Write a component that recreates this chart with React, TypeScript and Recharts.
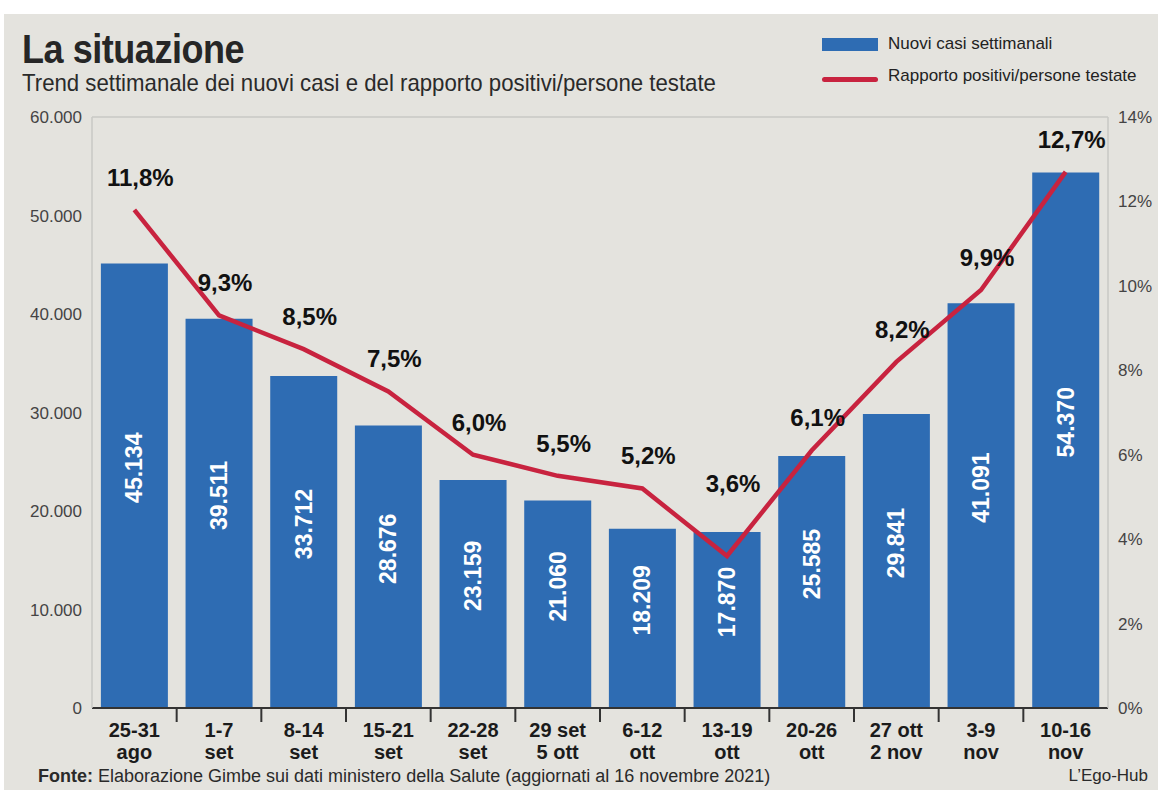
import React from 'react';
import {
  ComposedChart,
  Bar,
  Line,
  XAxis,
  YAxis,
  CartesianGrid,
  LabelList,
} from 'recharts';

const weeks = [
  ['25-31', 'ago'],
  ['1-7', 'set'],
  ['8-14', 'set'],
  ['15-21', 'set'],
  ['22-28', 'set'],
  ['29 set', '5 ott'],
  ['6-12', 'ott'],
  ['13-19', 'ott'],
  ['20-26', 'ott'],
  ['27 ott', '2 nov'],
  ['3-9', 'nov'],
  ['10-16', 'nov'],
];
const newCases = [45134, 39511, 33712, 28676, 23159, 21060, 18209, 17870, 25585, 29841, 41091, 54370];
const positivity = [11.8, 9.3, 8.5, 7.5, 6.0, 5.5, 5.2, 3.6, 6.1, 8.2, 9.9, 12.7];
const casesTicks = [0, 10000, 20000, 30000, 40000, 50000, 60000];
const rateTicks = [0, 2, 4, 6, 8, 10, 12, 14];

const BLUE = '#2e6cb3';
const RED = '#c8233f';
const GRID = '#c8c8c4';
const BG = '#e4e3de';
const SANS = "'Liberation Sans', Arial, sans-serif";

const CHART_W = 1154;
const CHART_H = 780;
const LEFT_W = 88;
const RIGHT_W = 50;
const BAND = (CHART_W - LEFT_W - RIGHT_W) / weeks.length;

const data = weeks.map((w, i) => ({
  key: w.join(' '),
  top: w[0],
  bottom: w[1],
  cases: newCases[i],
  rate: positivity[i],
}));

const fmtThousands = (v: number) => String(v).replace(/\B(?=(\d{3})+(?!\d))/g, '.');
const fmtPct = (v: number) => v.toFixed(1).replace('.', ',') + '%';

const WeekTick = (props: any) => {
  const { x, y, index } = props;
  const d = data[index];
  return (
    <g>
      {index < data.length - 1 && (
        <line x1={x + BAND / 2} x2={x + BAND / 2} y1={y - 8} y2={y + 6} stroke="#333" strokeWidth={2} />
      )}
      <text x={x} y={y + 7} textAnchor="middle" fontFamily={SANS} fontWeight="bold" fontSize={20} fill="#1b1b1b">
        <tspan x={x} dy="0.71em">{d.top}</tspan>
        <tspan x={x} dy={22}>{d.bottom}</tspan>
      </text>
    </g>
  );
};

const BarValue = (props: any) => {
  const { x, y, width, height, value } = props;
  const cx = x + width / 2;
  const cy = y + height / 2 - 18;
  return (
    <text
      x={cx}
      y={cy}
      transform={`rotate(-90 ${cx} ${cy})`}
      textAnchor="middle"
      dominantBaseline="central"
      fill="#ffffff"
      fontFamily={SANS}
      fontWeight="bold"
      fontSize={23}
    >
      {fmtThousands(value)}
    </text>
  );
};

// lift the label a bit more where the line dips, so it stays clear of both segments
const RateValue = (props: any) => {
  const { x, y, value, index } = props;
  const prev = positivity[index - 1];
  const next = positivity[index + 1];
  const dip = prev !== undefined && next !== undefined && value < prev && value < next;
  return (
    <text
      x={x + 6}
      y={y - (dip ? 64 : 24)}
      textAnchor="middle"
      fill="#111"
      fontFamily={SANS}
      fontWeight="bold"
      fontSize={24}
    >
      {fmtPct(value)}
    </text>
  );
};

export default function App() {
  return (
    <div style={{ position: 'absolute', left: 0, top: 0, width: 1161, height: 797, background: '#fff' }}>
      <div
        style={{
          position: 'absolute',
          left: 4,
          top: 14,
          width: CHART_W,
          height: 776,
          background: BG,
          fontFamily: SANS,
          color: '#222',
          overflow: 'hidden',
        }}
      >
        <div
          style={{
            position: 'absolute',
            left: 18,
            top: 12,
            fontSize: 40,
            fontWeight: 'bold',
            lineHeight: '46px',
            color: '#262626',
            whiteSpace: 'nowrap',
            transform: 'scaleX(0.9)',
            transformOrigin: 'left top',
            letterSpacing: -0.5,
          }}
        >
          La situazione
        </div>
        <div
          style={{
            position: 'absolute',
            left: 18,
            top: 55,
            fontSize: 24,
            lineHeight: '28px',
            color: '#2a2a2a',
            whiteSpace: 'nowrap',
            transform: 'scaleX(0.925)',
            transformOrigin: 'left top',
          }}
        >
          Trend settimanale dei nuovi casi e del rapporto positivi/persone testate
        </div>

        <div style={{ position: 'absolute', left: 818, top: 24, width: 56, height: 13, background: BLUE }} />
        <div style={{ position: 'absolute', left: 884, top: 20, fontSize: 17, lineHeight: '20px', whiteSpace: 'nowrap' }}>
          Nuovi casi settimanali
        </div>
        <div style={{ position: 'absolute', left: 818, top: 63, width: 56, height: 5, background: RED, borderRadius: 3 }} />
        <div style={{ position: 'absolute', left: 884, top: 52, fontSize: 17, lineHeight: '20px', whiteSpace: 'nowrap' }}>
          Rapporto positivi/persone testate
        </div>

        <div style={{ position: 'absolute', left: 0, top: 0 }}>
          <ComposedChart
            width={CHART_W}
            height={CHART_H}
            data={data}
            margin={{ top: 103, right: 0, bottom: 0, left: 0 }}
            barCategoryGap="10.5%"
          >
            <CartesianGrid horizontal vertical={false} stroke={GRID} strokeWidth={1.5} />
            <XAxis
              dataKey="key"
              height={CHART_H - 694}
              interval={0}
              tickLine={false}
              axisLine={{ stroke: '#333', strokeWidth: 2 }}
              tick={<WeekTick />}
            />
            <YAxis
              yAxisId="cases"
              width={LEFT_W}
              domain={[0, 60000]}
              ticks={casesTicks}
              tickLine={false}
              axisLine={{ stroke: GRID, strokeWidth: 1.5 }}
              tickMargin={4}
              tickFormatter={fmtThousands}
              tick={{ fontSize: 17, fill: '#444', fontFamily: SANS }}
            />
            <YAxis
              yAxisId="rate"
              orientation="right"
              width={RIGHT_W}
              domain={[0, 14]}
              ticks={rateTicks}
              tickLine={false}
              axisLine={{ stroke: GRID, strokeWidth: 1.5 }}
              tickMargin={4}
              tickFormatter={(v: number) => `${v}%`}
              tick={{ fontSize: 17, fill: '#444', fontFamily: SANS }}
            />
            <Bar yAxisId="cases" dataKey="cases" fill={BLUE} isAnimationActive={false}>
              <LabelList dataKey="cases" content={<BarValue />} />
            </Bar>
            <Line
              yAxisId="rate"
              dataKey="rate"
              stroke={RED}
              strokeWidth={4.5}
              dot={false}
              activeDot={false}
              type="linear"
              isAnimationActive={false}
            >
              <LabelList dataKey="rate" content={<RateValue />} />
            </Line>
          </ComposedChart>
        </div>

        <div style={{ position: 'absolute', left: 34, top: 752, fontSize: 18, lineHeight: '20px', color: '#2a2a2a', whiteSpace: 'nowrap' }}>
          <b>Fonte:</b> Elaborazione Gimbe sui dati ministero della Salute (aggiornati al 16 novembre 2021)
        </div>
        <div style={{ position: 'absolute', right: 10, top: 752, fontSize: 17, lineHeight: '20px', color: '#2a2a2a', whiteSpace: 'nowrap' }}>
          L’Ego-Hub
        </div>
      </div>
    </div>
  );
}
